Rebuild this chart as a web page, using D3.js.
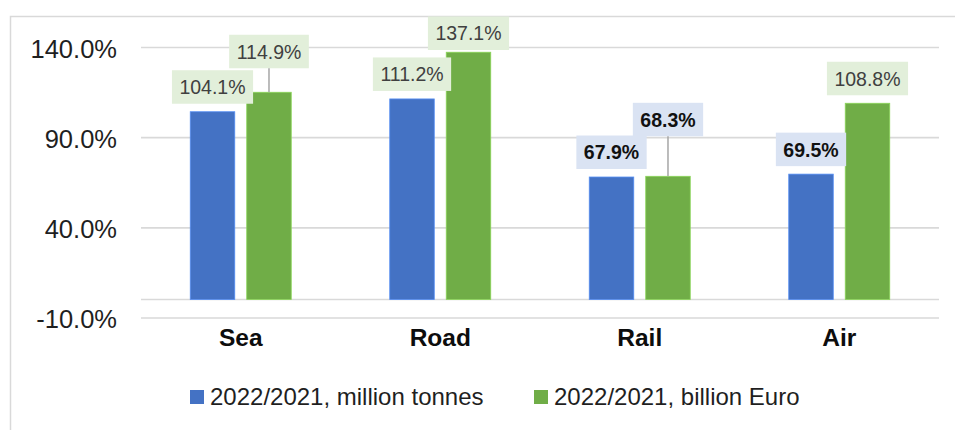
<!DOCTYPE html>
<html>
<head>
<meta charset="utf-8">
<script src="https://cdn.jsdelivr.net/npm/d3@7"></script>
<style>
  html, body { margin: 0; padding: 0; background: #fff; }
  svg { display: block; font-family: "Liberation Sans", Arial, sans-serif; }
</style>
</head>
<body>
<svg id="chart" width="955" height="430"></svg>
<script>
// Year-on-year change by transport mode, 2022 vs 2021
const categories = ["Sea", "Road", "Rail", "Air"];
const seriesNames = ["2022/2021, million tonnes", "2022/2021, billion Euro"];
const tonnesValues = [104.1, 111.2, 67.9, 69.5];
const euroValues = [114.9, 137.1, 68.3, 108.8];
const yTicks = [-10, 40, 90, 140];

const seriesValues = [tonnesValues, euroValues];
const colors = ["#4472C4", "#70AD47"];

// Label look: emphasised labels get bold text on a pale blue box
const emphasised = { "Rail-0": true, "Rail-1": true, "Air-0": true };
// Labels pulled up above their bar with a leader line (pixels)
const labelLift = { "Sea-1": 16, "Rail-1": 32 };

// Percent with one decimal and a plain hyphen for negatives
const pct = d => d3.format(".1f")(d).replace("\u2212", "-") + "%";

const svg = d3.select("#chart");
const plot = { left: 141, right: 939, top: 47, bottom: 317.5 };

// Outer frame (top and left edges visible)
svg.append("rect")
  .attr("x", 10.5).attr("y", 16.5)
  .attr("width", 980).attr("height", 440)
  .attr("fill", "none").attr("stroke", "#d9d9d9").attr("stroke-width", 1.5);

const y = d3.scaleLinear().domain([-10, 140]).range([plot.bottom, plot.top]);
const x0 = d3.scaleBand().domain(categories).range([plot.left, plot.right]).padding(0);
const x1 = d3.scaleBand().domain([0, 1])
  .range([(x0.bandwidth() - 101) / 2, (x0.bandwidth() + 101) / 2])
  .paddingInner(0.212).paddingOuter(0);

// Gridlines and tick labels
const yAxis = d3.axisLeft(y).tickValues(yTicks)
  .tickSize(-(plot.right - plot.left))
  .tickFormat(pct);
const gy = svg.append("g").attr("transform", `translate(${plot.left},0)`).call(yAxis);
gy.select(".domain").remove();
gy.selectAll(".tick line").attr("stroke", "#d9d9d9").attr("stroke-width", 1.6);
gy.selectAll(".tick text")
  .attr("x", -24).attr("dy", "0.4em")
  .attr("font-size", 25.5).attr("fill", "#1f1f1f")
  .attr("font-family", "Liberation Sans, Arial, sans-serif");

// Zero baseline
svg.append("line")
  .attr("x1", plot.left).attr("x2", plot.right)
  .attr("y1", y(0)).attr("y2", y(0))
  .attr("stroke", "#d9d9d9").attr("stroke-width", 1.6);

// Bars
const groups = svg.append("g").selectAll("g")
  .data(categories).join("g")
  .attr("transform", d => `translate(${x0(d)},0)`);

groups.selectAll("rect")
  .data((c, ci) => seriesValues.map((vals, si) => ({ c, si, v: vals[ci] })))
  .join("rect")
  .attr("x", d => x1(d.si))
  .attr("width", x1.bandwidth())
  .attr("y", d => y(d.v))
  .attr("height", d => y(0) - y(d.v))
  .attr("fill", d => colors[d.si])
  .attr("stroke", d => d3.color(colors[d.si]).brighter(0.6))
  .attr("stroke-width", 0.8);

// Data labels
const labelLayer = svg.append("g");
categories.forEach((c, ci) => {
  seriesValues.forEach((vals, si) => {
    const v = vals[ci];
    const key = c + "-" + si;
    const bold = !!emphasised[key];
    const cx = x0(c) + x1(si) + x1.bandwidth() / 2;
    const barTop = y(v);
    const g = labelLayer.append("g");
    const txt = g.append("text")
      .attr("text-anchor", "middle")
      .attr("font-size", 19.5)
      .attr("font-weight", bold ? "bold" : "normal")
      .attr("fill", bold ? "#111" : "#404040")
      .text(pct(v));
    const tw = txt.node().getComputedTextLength();
    const bw = tw + 15, bh = 33.5;
    let bottom = barTop - 8 - (labelLift[key] || 0);
    let top = bottom - bh;
    if (top < 16.5) { top = 16.5; bottom = top + bh; }
    g.insert("rect", "text")
      .attr("x", cx - bw / 2).attr("y", top)
      .attr("width", bw).attr("height", bh)
      .attr("fill", bold ? "#DAE3F3" : "#E2EFDA");
    txt.attr("x", cx).attr("y", top + bh / 2).attr("dy", "0.37em");
    if (labelLift[key]) {
      g.append("line")
        .attr("x1", cx).attr("x2", cx)
        .attr("y1", bottom).attr("y2", barTop)
        .attr("stroke", "#a6a6a6").attr("stroke-width", 1.5);
    }
  });
});

// Category labels
svg.append("g").selectAll("text")
  .data(categories).join("text")
  .attr("x", d => x0(d) + x0.bandwidth() / 2)
  .attr("y", 346)
  .attr("text-anchor", "middle")
  .attr("font-size", 24.5).attr("font-weight", "bold").attr("fill", "#0d0d0d")
  .text(d => d);

// Legend
const legendX = [190, 534];
const legend = svg.append("g").selectAll("g")
  .data(seriesNames).join("g")
  .attr("transform", (d, i) => `translate(${legendX[i]},0)`);
legend.append("rect")
  .attr("x", 0).attr("y", 390).attr("width", 14).attr("height", 14)
  .attr("fill", (d, i) => colors[i]);
legend.append("text")
  .attr("x", 20).attr("y", 405)
  .attr("font-size", 24).attr("fill", "#1f1f1f")
  .text(d => d);
</script>
</body>
</html>
